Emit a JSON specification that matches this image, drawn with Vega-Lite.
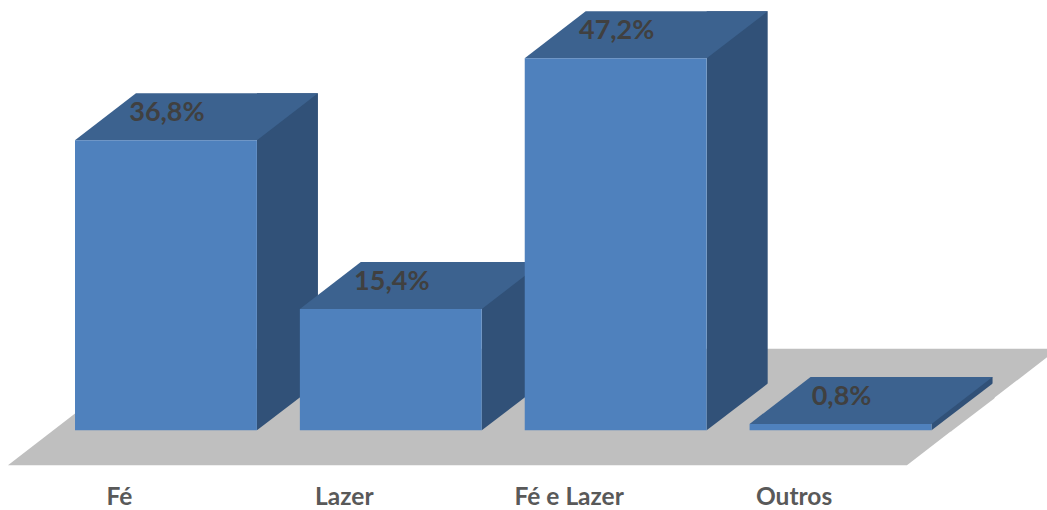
{
  "$schema": "https://vega.github.io/schema/vega-lite/v6.json",
  "width": 1047,
  "height": 470,
  "padding": {"left": 0, "top": 0, "right": 0, "bottom": 40},
  "autosize": "none",
  "background": "white",
  "view": {"stroke": null},
  "config": {"font": "Lato"},
  "data": {
    "values": [
      {"destino": "Fé", "percentual": 36.8, "rotulo": "36,8%"},
      {"destino": "Lazer", "percentual": 15.4, "rotulo": "15,4%"},
      {"destino": "Fé e Lazer", "percentual": 47.2, "rotulo": "47,2%"},
      {"destino": "Outros", "percentual": 0.8, "rotulo": "0,8%"}
    ]
  },
  "encoding": {
    "x": {
      "field": "destino",
      "type": "nominal",
      "sort": null,
      "title": null,
      "scale": {"range": [75, 931.5], "paddingInner": 0.1911, "paddingOuter": 0},
      "axis": {
        "domain": false,
        "ticks": false,
        "grid": false,
        "labelAngle": 0,
        "labelFont": "Lato",
        "labelFontWeight": "bold",
        "labelFontSize": 24.5,
        "labelColor": "#595959",
        "labelOffset": -46.5,
        "labelBaseline": "alphabetic",
        "labelPadding": 34.5
      }
    },
    "y": {
      "field": "percentual",
      "type": "quantitative",
      "title": null,
      "scale": {"domain": [-5.04, 54.6], "zero": false, "nice": false},
      "axis": null
    }
  },
  "layer": [
    {
      "description": "Floor under the columns, anchored to the first column's base",
      "transform": [{"filter": "datum.destino === 'Fé'"}],
      "mark": {
        "type": "point",
        "filled": true,
        "size": 4,
        "opacity": 1,
        "strokeWidth": 0,
        "color": "#bfbfbf",
        "shape": "M-158,35L741,35L892,-81.5L-7,-81.5Z"
      },
      "encoding": {"y": {"datum": 0}}
    },
    {
      "description": "Side wall of each column",
      "mark": {
        "type": "bar",
        "width": 61,
        "xOffset": 121.5,
        "yOffset": -47,
        "y2Offset": 0,
        "color": "#315178"
      },
      "encoding": {"y2": {"datum": 0}}
    },
    {
      "description": "Cuts the side wall's lower edge along the depth slope",
      "mark": {
        "type": "point",
        "filled": true,
        "size": 4,
        "opacity": 1,
        "strokeWidth": 0,
        "color": "#bfbfbf",
        "shape": "M91,0L152.5,-47L154,-47L154,1L91,1Z"
      },
      "encoding": {"y": {"datum": 0}}
    },
    {
      "description": "Where the last column's cut runs past the floor's right edge the page shows through",
      "transform": [{"filter": "datum.destino === 'Outros'"}],
      "mark": {
        "type": "point",
        "filled": true,
        "size": 4,
        "opacity": 1,
        "strokeWidth": 0,
        "color": "#ffffff",
        "shape": "M112,0L156,-33.5L156,3L110,3L112,0Z"
      },
      "encoding": {"y": {"datum": 0}}
    },
    {
      "description": "Top face of each column",
      "mark": {
        "type": "point",
        "filled": true,
        "size": 4,
        "opacity": 1,
        "strokeWidth": 0,
        "color": "#3c628f",
        "shape": "M-91,0L91,0L152,-47L-30,-47Z"
      }
    },
    {
      "description": "Front face of each column",
      "mark": {"type": "bar", "color": "#4f81bd"},
      "encoding": {"y2": {"datum": 0}}
    },
    {
      "description": "Percentage printed on the top face",
      "mark": {
        "type": "text",
        "font": "Lato",
        "fontWeight": "bold",
        "fontSize": 27,
        "color": "#404040",
        "baseline": "middle",
        "align": "center",
        "dx": 1,
        "dy": -27
      },
      "encoding": {"text": {"field": "rotulo", "type": "nominal"}}
    }
  ]
}
